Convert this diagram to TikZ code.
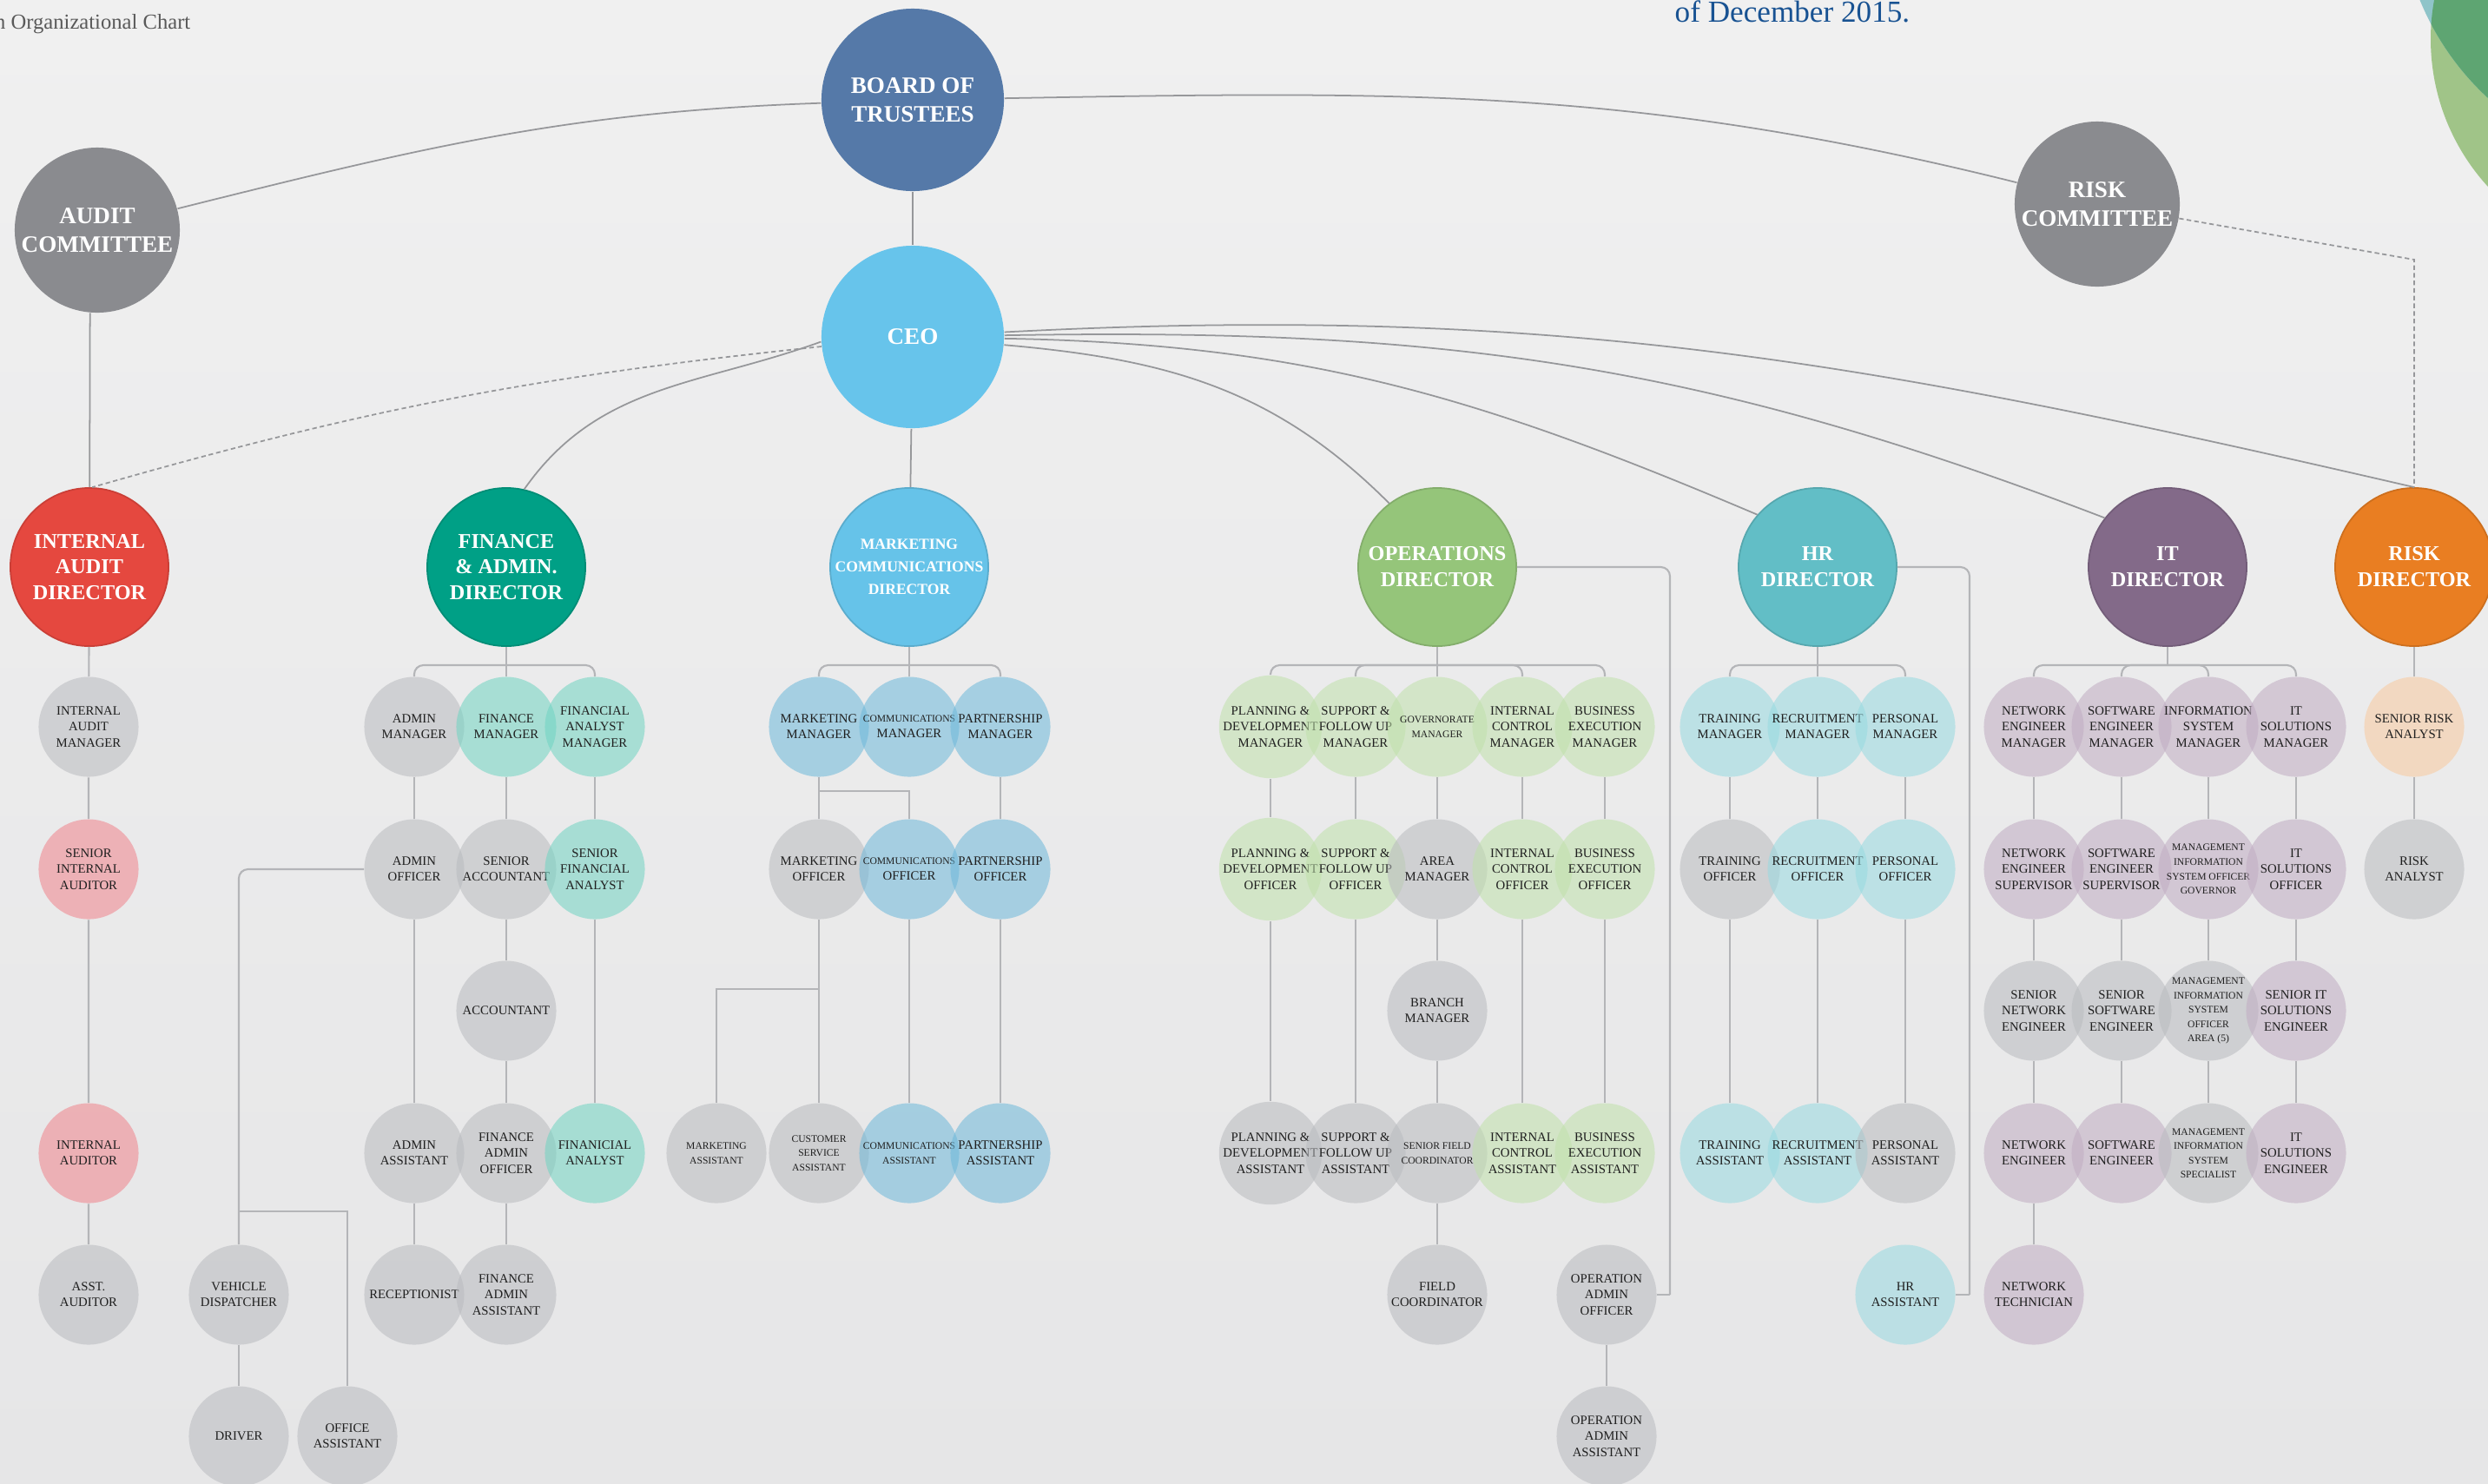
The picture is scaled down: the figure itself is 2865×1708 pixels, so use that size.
\documentclass[tikz,border=0pt]{standalone}
\usepackage{fontspec}
\setmainfont{Liberation Serif}
\definecolor{bgtop}{RGB}{240,240,240}
\definecolor{bgbottom}{RGB}{230,230,231}
\definecolor{boardblue}{RGB}{85,121,168}
\definecolor{ceoblue}{RGB}{103,196,235}
\definecolor{committeegrey}{RGB}{138,139,143}
\definecolor{auditred}{RGB}{229,72,63}
\definecolor{financeteal}{RGB}{0,160,134}
\definecolor{marketingblue}{RGB}{102,195,233}
\definecolor{opsgreen}{RGB}{149,197,122}
\definecolor{hrteal}{RGB}{98,190,198}
\definecolor{itpurple}{RGB}{131,106,137}
\definecolor{riskorange}{RGB}{233,126,34}
% light fills, drawn half transparent
\definecolor{posgrey}{RGB}{185,187,191}
\definecolor{auditpink}{RGB}{240,131,140}
\definecolor{financelight}{RGB}{112,212,194}
\definecolor{marketinglight}{RGB}{109,184,218}
\definecolor{opslight}{RGB}{192,225,171}
\definecolor{hrlight}{RGB}{151,218,225}
\definecolor{itlight}{RGB}{192,172,194}
\definecolor{risklight}{RGB}{249,202,158}
\definecolor{linkgrey}{RGB}{180,181,184}
\definecolor{toplinkgrey}{RGB}{150,151,154}
\definecolor{datenavy}{RGB}{24,82,146}
\definecolor{decoblue}{RGB}{143,196,201}
\definecolor{decodark}{RGB}{94,165,114}
\definecolor{decolight}{RGB}{160,196,136}
\newcommand{\topfont}{\bfseries\fontsize{7.7}{9.4}\selectfont}
\newcommand{\dirfont}{\bfseries\fontsize{6.9}{8.5}\selectfont}
\newcommand{\posfont}{\fontsize{4.2}{5.2}\selectfont}
\newcommand{\postiny}{\fontsize{3.3}{4.7}\selectfont}

\begin{document}
\begin{tikzpicture}[x=0.01cm, y=0.01cm,
    topnode/.style={circle, fill=#1, text=white, font=\topfont, align=center, inner sep=0pt, minimum size=2.1cm},
    committee/.style={circle, fill=committeegrey, text=white, font=\topfont, align=center, inner sep=0pt, minimum size=1.9cm},
    director/.style={circle, fill=#1, draw=#1!88!black, line width=0.5pt, text=white, font=\dirfont, align=center, inner sep=0pt, minimum size=1.82cm},
    postbox/.style={circle, fill=#1, fill opacity=0.55, text opacity=1, text=black!88, font=\posfont, align=center, inner sep=0pt, minimum size=1.15cm},
    link/.style={draw=linkgrey, line width=0.6pt},
    bracket/.style={link, rounded corners=3pt},
    toplink/.style={draw=toplinkgrey, line width=0.5pt},
    dashlink/.style={draw=toplinkgrey, line width=0.5pt, dash pattern=on 1.5pt off 1pt}]

    % Page and background
    \useasboundingbox (0,0) rectangle (2865,-1708);
    \shade[top color=bgtop, bottom color=bgbottom] (0,0) rectangle (2865,-1708);

    % Corner decoration
    \fill[decolight] (3051,-45) circle[radius=252];
    \fill[decoblue] (3080,120) circle[radius=317];
    \begin{scope}
        \clip (3051,-45) circle[radius=252];
        \fill[decodark] (3080,120) circle[radius=317];
    \end{scope}

    % Header texts
    \node[anchor=base east, inner sep=0pt, text=black!65, font=\fontsize{7}{8}\selectfont] (title) at (220,-33) {n Organizational Chart};
    \node[anchor=base west, inner sep=0pt, text=datenavy, font=\fontsize{10}{12}\selectfont] (date) at (1928,-25) {of December 2015.};

    % Board level
    \node[topnode=boardblue] (board) at (1051,-115) {BOARD OF\\TRUSTEES};
    \node[topnode=ceoblue] (ceo) at (1051,-388) {CEO};
    \node[committee] (audc) at (112,-265) {AUDIT\\COMMITTEE};
    \node[committee] (riskc) at (2415,-235) {RISK\\COMMITTEE};

    % Directors
    \node[director=auditred] (iad) at (103,-653) {INTERNAL\\AUDIT\\DIRECTOR};
    \node[director=financeteal] (fad) at (583,-653) {FINANCE\\\& ADMIN.\\DIRECTOR};
    \node[director=marketingblue, font=\bfseries\fontsize{5}{7.4}\selectfont] (mcd) at (1047,-653) {MARKETING\\COMMUNICATIONS\\DIRECTOR};
    \node[director=opsgreen] (opd) at (1655,-653) {OPERATIONS\\DIRECTOR};
    \node[director=hrteal] (hrd) at (2093,-653) {HR\\DIRECTOR};
    \node[director=itpurple] (itd) at (2496,-653) {IT\\DIRECTOR};
    \node[director=riskorange] (rkd) at (2780,-653) {RISK\\DIRECTOR};

    % Internal audit
    \node[postbox=posgrey] (iam) at (102,-837) {INTERNAL\\AUDIT\\MANAGER};
    \node[postbox=auditpink] (sia) at (102,-1001) {SENIOR\\INTERNAL\\AUDITOR};
    \node[postbox=auditpink] (ina) at (102,-1328) {INTERNAL\\AUDITOR};
    \node[postbox=posgrey] (asa) at (102,-1491) {ASST.\\AUDITOR};

    % Finance and admin
    \node[postbox=posgrey] (adm) at (477,-837) {ADMIN\\MANAGER};
    \node[postbox=financelight] (fim) at (583,-837) {FINANCE\\MANAGER};
    \node[postbox=financelight] (fam) at (685,-837) {FINANCIAL\\ANALYST\\MANAGER};
    \node[postbox=posgrey] (ado) at (477,-1001) {ADMIN\\OFFICER};
    \node[postbox=posgrey] (sac) at (583,-1001) {SENIOR\\ACCOUNTANT};
    \node[postbox=financelight] (sfn) at (685,-1001) {SENIOR\\FINANCIAL\\ANALYST};
    \node[postbox=posgrey] (acc) at (583,-1164) {ACCOUNTANT};
    \node[postbox=posgrey] (ada) at (477,-1328) {ADMIN\\ASSISTANT};
    \node[postbox=posgrey] (fao) at (583,-1328) {FINANCE\\ADMIN\\OFFICER};
    \node[postbox=financelight] (fan) at (685,-1328) {FINANICIAL\\ANALYST};
    \node[postbox=posgrey] (rec) at (477,-1491) {RECEPTIONIST};
    \node[postbox=posgrey] (faa) at (583,-1491) {FINANCE\\ADMIN\\ASSISTANT};
    \node[postbox=posgrey] (vds) at (275,-1491) {VEHICLE\\DISPATCHER};
    \node[postbox=posgrey] (drv) at (275,-1654) {DRIVER};
    \node[postbox=posgrey] (ofa) at (400,-1654) {OFFICE\\ASSISTANT};

    % Marketing communications
    \node[postbox=marketinglight] (mkm) at (943,-837) {MARKETING\\MANAGER};
    \node[postbox=marketinglight] (com) at (1047,-837) {{\postiny COMMUNICATIONS}\\MANAGER};
    \node[postbox=marketinglight] (pam) at (1152,-837) {PARTNERSHIP\\MANAGER};
    \node[postbox=posgrey] (mko) at (943,-1001) {MARKETING\\OFFICER};
    \node[postbox=marketinglight] (coo) at (1047,-1001) {{\postiny COMMUNICATIONS}\\OFFICER};
    \node[postbox=marketinglight] (pao) at (1152,-1001) {PARTNERSHIP\\OFFICER};
    \node[postbox=posgrey, font=\postiny] (mka) at (825,-1328) {MARKETING\\ASSISTANT};
    \node[postbox=posgrey, font=\postiny] (csa) at (943,-1328) {CUSTOMER\\SERVICE\\ASSISTANT};
    \node[postbox=marketinglight, font=\postiny] (coa) at (1047,-1328) {COMMUNICATIONS\\ASSISTANT};
    \node[postbox=marketinglight] (paa) at (1152,-1328) {PARTNERSHIP\\ASSISTANT};

    % Operations
    \node[postbox=opslight] (pdm) at (1463,-837) {PLANNING \&\\DEVELOPMENT\\MANAGER};
    \node[postbox=opslight] (sfm) at (1561,-837) {SUPPORT \&\\FOLLOW UP\\MANAGER};
    \node[postbox=opslight, font=\postiny] (gvm) at (1655,-837) {GOVERNORATE\\MANAGER};
    \node[postbox=opslight] (icm) at (1753,-837) {INTERNAL\\CONTROL\\MANAGER};
    \node[postbox=opslight] (bem) at (1848,-837) {BUSINESS\\EXECUTION\\MANAGER};
    \node[postbox=opslight] (pdo) at (1463,-1001) {PLANNING \&\\DEVELOPMENT\\OFFICER};
    \node[postbox=opslight] (sfo) at (1561,-1001) {SUPPORT \&\\FOLLOW UP\\OFFICER};
    \node[postbox=posgrey] (arm) at (1655,-1001) {AREA\\MANAGER};
    \node[postbox=opslight] (ico) at (1753,-1001) {INTERNAL\\CONTROL\\OFFICER};
    \node[postbox=opslight] (beo) at (1848,-1001) {BUSINESS\\EXECUTION\\OFFICER};
    \node[postbox=posgrey] (brm) at (1655,-1164) {BRANCH\\MANAGER};
    \node[postbox=posgrey] (pda) at (1463,-1328) {PLANNING \&\\DEVELOPMENT\\ASSISTANT};
    \node[postbox=posgrey] (sfa) at (1561,-1328) {SUPPORT \&\\FOLLOW UP\\ASSISTANT};
    \node[postbox=posgrey, font=\postiny] (sfc) at (1655,-1328) {SENIOR FIELD\\COORDINATOR};
    \node[postbox=opslight] (ica) at (1753,-1328) {INTERNAL\\CONTROL\\ASSISTANT};
    \node[postbox=opslight] (bea) at (1848,-1328) {BUSINESS\\EXECUTION\\ASSISTANT};
    \node[postbox=posgrey] (fco) at (1655,-1491) {FIELD\\COORDINATOR};
    \node[postbox=posgrey] (oao) at (1850,-1491) {OPERATION\\ADMIN\\OFFICER};
    \node[postbox=posgrey] (oaa) at (1850,-1654) {OPERATION\\ADMIN\\ASSISTANT};

    % Human resources
    \node[postbox=hrlight] (trm) at (1992,-837) {TRAINING\\MANAGER};
    \node[postbox=hrlight] (rcm) at (2093,-837) {RECRUITMENT\\MANAGER};
    \node[postbox=hrlight] (psm) at (2194,-837) {PERSONAL\\MANAGER};
    \node[postbox=posgrey] (tro) at (1992,-1001) {TRAINING\\OFFICER};
    \node[postbox=hrlight] (rco) at (2093,-1001) {RECRUITMENT\\OFFICER};
    \node[postbox=hrlight] (pso) at (2194,-1001) {PERSONAL\\OFFICER};
    \node[postbox=hrlight] (tra) at (1992,-1328) {TRAINING\\ASSISTANT};
    \node[postbox=hrlight] (rca) at (2093,-1328) {RECRUITMENT\\ASSISTANT};
    \node[postbox=posgrey] (psa) at (2194,-1328) {PERSONAL\\ASSISTANT};
    \node[postbox=hrlight] (hra) at (2194,-1491) {HR\\ASSISTANT};

    % IT
    \node[postbox=itlight] (nem) at (2342,-837) {NETWORK\\ENGINEER\\MANAGER};
    \node[postbox=itlight] (sem) at (2443,-837) {SOFTWARE\\ENGINEER\\MANAGER};
    \node[postbox=itlight] (ism) at (2543,-837) {INFORMATION\\SYSTEM\\MANAGER};
    \node[postbox=itlight] (itm) at (2644,-837) {IT\\SOLUTIONS\\MANAGER};
    \node[postbox=itlight] (nes) at (2342,-1001) {NETWORK\\ENGINEER\\SUPERVISOR};
    \node[postbox=itlight] (ses) at (2443,-1001) {SOFTWARE\\ENGINEER\\SUPERVISOR};
    \node[postbox=itlight, font=\postiny] (mig) at (2543,-1001) {MANAGEMENT\\INFORMATION\\SYSTEM OFFICER\\GOVERNOR};
    \node[postbox=itlight] (ito) at (2644,-1001) {IT\\SOLUTIONS\\OFFICER};
    \node[postbox=posgrey] (sne) at (2342,-1164) {SENIOR\\NETWORK\\ENGINEER};
    \node[postbox=posgrey] (sse) at (2443,-1164) {SENIOR\\SOFTWARE\\ENGINEER};
    \node[postbox=posgrey, font=\postiny] (mia) at (2543,-1164) {MANAGEMENT\\INFORMATION\\SYSTEM\\OFFICER\\AREA (5)};
    \node[postbox=itlight] (sie) at (2644,-1164) {SENIOR IT\\SOLUTIONS\\ENGINEER};
    \node[postbox=itlight] (nen) at (2342,-1328) {NETWORK\\ENGINEER};
    \node[postbox=itlight] (sen) at (2443,-1328) {SOFTWARE\\ENGINEER};
    \node[postbox=posgrey, font=\postiny] (mis) at (2543,-1328) {MANAGEMENT\\INFORMATION\\SYSTEM\\SPECIALIST};
    \node[postbox=itlight] (ise) at (2644,-1328) {IT\\SOLUTIONS\\ENGINEER};
    \node[postbox=itlight] (ntc) at (2342,-1491) {NETWORK\\TECHNICIAN};

    % Risk
    \node[postbox=risklight] (sra) at (2780,-837) {SENIOR RISK\\ANALYST};
    \node[postbox=posgrey] (rka) at (2780,-1001) {RISK\\ANALYST};

    % Junction points
    \coordinate (fb) at (583,-766);
    \coordinate (mb) at (1047,-766);
    \coordinate (ob) at (1655,-766);
    \coordinate (hb) at (2093,-766);
    \coordinate (ib) at (2496,-766);
    \coordinate (vdj) at (275,-1395);
    \coordinate (mkj) at (943,-911);
    \coordinate (moj) at (943,-1139);
    \coordinate (opj) at (1923,-1491);
    \coordinate (hrj) at (2268,-1491);
    \coordinate (rkj) at (2780,-299);

    % Board links
    \draw[toplink] (board) -- (ceo);
    \draw[toplink] (board) to[out=182, in=14] (audc.15);
    \draw[toplink] (board) to[out=1, in=166] (riskc.165);
    \draw[toplink] (audc.-95) -- (iad);
    \draw[dashlink] (riskc) -- (rkj) -- (rkd);

    % CEO links
    \draw[dashlink] (ceo) to[out=186, in=16] (iad.88);
    \draw[toplink] (ceo.183) to[out=200, in=55] (fad.77);
    \draw[toplink] (ceo) -- (mcd);
    \draw[toplink] (ceo) to[out=-5, in=135] (opd.127);
    \draw[toplink] (ceo) to[out=-1, in=157] (hrd.139);
    \draw[toplink] (ceo) to[out=1, in=159] (itd.142);
    \draw[toplink] (ceo) to[out=3, in=167] (rkd.90);

    % Internal audit links
    \draw[link] (iad) -- (iam) -- (sia) -- (ina) -- (asa);

    % Finance links
    \draw[link] (fad) -- (fb) -- (fim);
    \draw[bracket] (fb) -| (adm);
    \draw[bracket] (fb) -| (fam);
    \draw[link] (adm) -- (ado) -- (ada) -- (rec);
    \draw[link] (fim) -- (sac) -- (acc) -- (fao) -- (faa);
    \draw[link] (fam) -- (sfn) -- (fan);
    \draw[bracket] (ado) -| (vds);
    \draw[link] (vdj) -| (ofa);
    \draw[link] (vds) -- (drv);

    % Marketing links
    \draw[link] (mcd) -- (mb) -- (com);
    \draw[bracket] (mb) -| (mkm);
    \draw[bracket] (mb) -| (pam);
    \draw[link] (mkm) -- (mko) -- (csa);
    \draw[link] (mkj) -| (coo);
    \draw[link] (moj) -| (mka);
    \draw[link] (coo) -- (coa);
    \draw[link] (pam) -- (pao) -- (paa);

    % Operations links
    \draw[link] (opd) -- (ob) -- (gvm);
    \draw[bracket] (ob) -| (pdm);
    \draw[bracket] (ob) -| (sfm);
    \draw[bracket] (ob) -| (icm);
    \draw[bracket] (ob) -| (bem);
    \draw[link] (pdm) -- (pdo) -- (pda);
    \draw[link] (sfm) -- (sfo) -- (sfa);
    \draw[link] (gvm) -- (arm) -- (brm) -- (sfc) -- (fco);
    \draw[link] (icm) -- (ico) -- (ica);
    \draw[link] (bem) -- (beo) -- (bea);
    \draw[bracket] (opd) -| (opj);
    \draw[link] (opj) -- (oao);
    \draw[link] (oao) -- (oaa);

    % HR links
    \draw[link] (hrd) -- (hb) -- (rcm);
    \draw[bracket] (hb) -| (trm);
    \draw[bracket] (hb) -| (psm);
    \draw[link] (trm) -- (tro) -- (tra);
    \draw[link] (rcm) -- (rco) -- (rca);
    \draw[link] (psm) -- (pso) -- (psa);
    \draw[bracket] (hrd) -| (hrj);
    \draw[link] (hrj) -- (hra);

    % IT links
    \draw[link] (itd) -- (ib);
    \draw[bracket] (ib) -| (nem);
    \draw[bracket] (ib) -| (sem);
    \draw[bracket] (ib) -| (ism);
    \draw[bracket] (ib) -| (itm);
    \draw[link] (nem) -- (nes) -- (sne) -- (nen) -- (ntc);
    \draw[link] (sem) -- (ses) -- (sse) -- (sen);
    \draw[link] (ism) -- (mig) -- (mia) -- (mis);
    \draw[link] (itm) -- (ito) -- (sie) -- (ise);

    % Risk links
    \draw[link] (rkd) -- (sra) -- (rka);
\end{tikzpicture}
\end{document}
